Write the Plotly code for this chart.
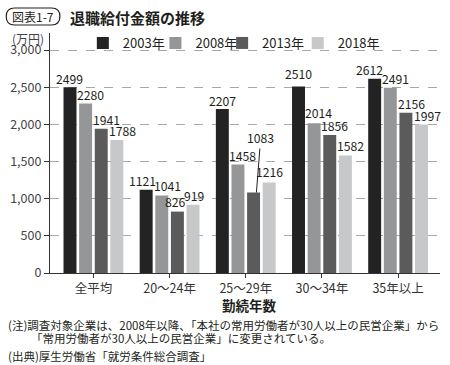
import plotly.graph_objects as go

# ---- data ----
categories = ["全平均", "20～24年", "25～29年", "30～34年", "35年以上"]
years = ["2003年", "2008年", "2013年", "2018年"]
v2003 = [2499, 1121, 2207, 2510, 2612]
v2008 = [2280, 1041, 1458, 2014, 2491]
v2013 = [1941, 826, 1083, 1856, 2156]
v2018 = [1788, 919, 1216, 1582, 1997]
y_ticks = [0, 500, 1000, 1500, 2000, 2500, 3000]

series = [v2003, v2008, v2013, v2018]
colors = ["#232323", "#959698", "#5b5b5b", "#c6c8c9"]
legend_px = [81, 154, 221, 297]

# label horizontal offsets (px, from bar centre) and vertical gaps
lab_dx = [[0, 5, 5.5, 5.5],
          [-4, 5.5, -1.5, 1.5],
          [0, 5, None, 0],
          [0, 4.5, 5, 5.5],
          [-5.5, 5, 5.5, 5.5]]
lab_dy = [[1.5, 2, 1.7, 2],
          [1.7, 3, 2.6, 1.7],
          [1, 1.6, 0, 3.6],
          [5, 3, 2.3, 2.4],
          [2, 2.3, 1.3, 1.6]]

W, H = 450, 365
L, R, T, B = 48, 440, 33, 273
YMAX = 3000 * (B - T) / (B - 50)


def px(xp):
    return (xp - L) / (R - L)


def py(yp):
    return (B - yp) / (B - T)


JP = "Noto Sans CJK JP"
txtcol = "#231f20"

fig = go.Figure()
legend_layout = {}
for i, (name, vals, col) in enumerate(zip(years, series, colors)):
    lname = "legend" if i == 0 else f"legend{i + 1}"
    fig.add_trace(go.Bar(x=categories, y=vals, name=name, marker_color=col,
                         marker_line_width=0, legend=lname))
    legend_layout[lname] = dict(orientation="h", x=px(legend_px[i]), y=py(43),
                                xanchor="left", yanchor="middle",
                                bgcolor="rgba(0,0,0,0)",
                                font=dict(family=JP, size=13, color=txtcol),
                                itemwidth=30)

slot = 15.7
LABFONT = JP
LABSIZE = 12.2
for gi, cat in enumerate(categories):
    for si, vals in enumerate(series):
        off = (si - 1.5) * slot
        if lab_dx[gi][si] is None:
            fig.add_annotation(x=cat, y=vals[gi], xref="x", yref="y",
                               text=str(vals[gi]), xshift=off + 2.8,
                               showarrow=True, arrowhead=0, arrowwidth=1,
                               arrowcolor=txtcol, ax=4.3, ay=-54.5, standoff=0,
                               font=dict(family=LABFONT, size=LABSIZE, color=txtcol))
            continue
        fig.add_annotation(x=cat, y=vals[gi], xref="x", yref="y",
                           text=str(vals[gi]), showarrow=False,
                           xanchor="center", yanchor="bottom",
                           xshift=off + lab_dx[gi][si], yshift=lab_dy[gi][si] - 4,
                           font=dict(family=LABFONT, size=LABSIZE, color=txtcol))

# title
fig.add_annotation(x=px(66), y=py(17), xref="paper", yref="paper",
                   text="<b>退職給付金額の推移</b>", showarrow=False,
                   xanchor="left", yanchor="middle",
                   font=dict(family=JP, size=15, color=txtcol))
# pill label
fig.add_annotation(x=px(31), y=py(16), xref="paper", yref="paper",
                   text="図表1-7", showarrow=False,
                   xanchor="center", yanchor="middle",
                   font=dict(family=JP, size=12, color=txtcol))
x0, x1, y0, y1, r = 4, 58, 8, 25, 8.5
path = (f"M {px(x0 + r)},{py(y0)} L {px(x1 - r)},{py(y0)} "
        f"Q {px(x1)},{py(y0)} {px(x1)},{py(y0 + r)} "
        f"Q {px(x1)},{py(y1)} {px(x1 - r)},{py(y1)} "
        f"L {px(x0 + r)},{py(y1)} "
        f"Q {px(x0)},{py(y1)} {px(x0)},{py(y0 + r)} "
        f"Q {px(x0)},{py(y0)} {px(x0 + r)},{py(y0)} Z")
fig.add_shape(type="path", path=path, xref="paper", yref="paper",
              line=dict(color=txtcol, width=1.2))

# unit
fig.add_annotation(x=px(26), y=py(38), xref="paper", yref="paper",
                   text="(万円)", showarrow=False, xanchor="center",
                   yanchor="middle", font=dict(family=JP, size=12, color="#444"))
# x-axis title
fig.add_annotation(x=px(249), y=py(305), xref="paper", yref="paper",
                   text="<b>勤続年数</b>", showarrow=False, xanchor="center",
                   yanchor="middle", font=dict(family=JP, size=13.5, color=txtcol))
# notes
notes = [("(注)調査対象企業は、2008年以降、「本社の常用労働者が30人以上の民営企業」から", 4, 325),
         ("「常用労働者が30人以上の民営企業」に変更されている。", 27, 338),
         ("(出典)厚生労働省「就労条件総合調査」", 4, 356)]
for t, xx, yy in notes:
    fig.add_annotation(x=px(xx), y=py(yy), xref="paper", yref="paper",
                       text=t, showarrow=False, xanchor="left", yanchor="middle",
                       font=dict(family=JP, size=11.5, color=txtcol))

fig.update_layout(
    width=W, height=H,
    margin=dict(l=L, r=W - R, t=T, b=H - B),
    paper_bgcolor="white", plot_bgcolor="white",
    barmode="group", bargap=0.18, bargroupgap=0.17,
    font=dict(family=JP, size=12.5, color="#333"),
    showlegend=True,
    xaxis=dict(type="category", range=[-0.57, 4.55], showline=True,
               linecolor="#333", linewidth=1.2, ticks="outside", ticklen=4,
               tickcolor="#333", showgrid=False,
               tickfont=dict(family=JP, size=12.5, color="#333")),
    yaxis=dict(range=[0, YMAX], tickvals=y_ticks, tickformat=",",
               showline=True, linecolor="#333", linewidth=1.2,
               ticks="outside", ticklen=5, tickcolor="#333",
               showgrid=True, gridcolor="#a8a8a8", griddash="dash",
               gridwidth=1, zeroline=False,
               tickfont=dict(family=JP, size=12.5, color="#444")),
    **legend_layout,
)

fig.write_html("out.html", config={"displayModeBar": False},
               post_script="document.body.style.margin='0';"
                           "document.body.style.overflow='hidden';")
